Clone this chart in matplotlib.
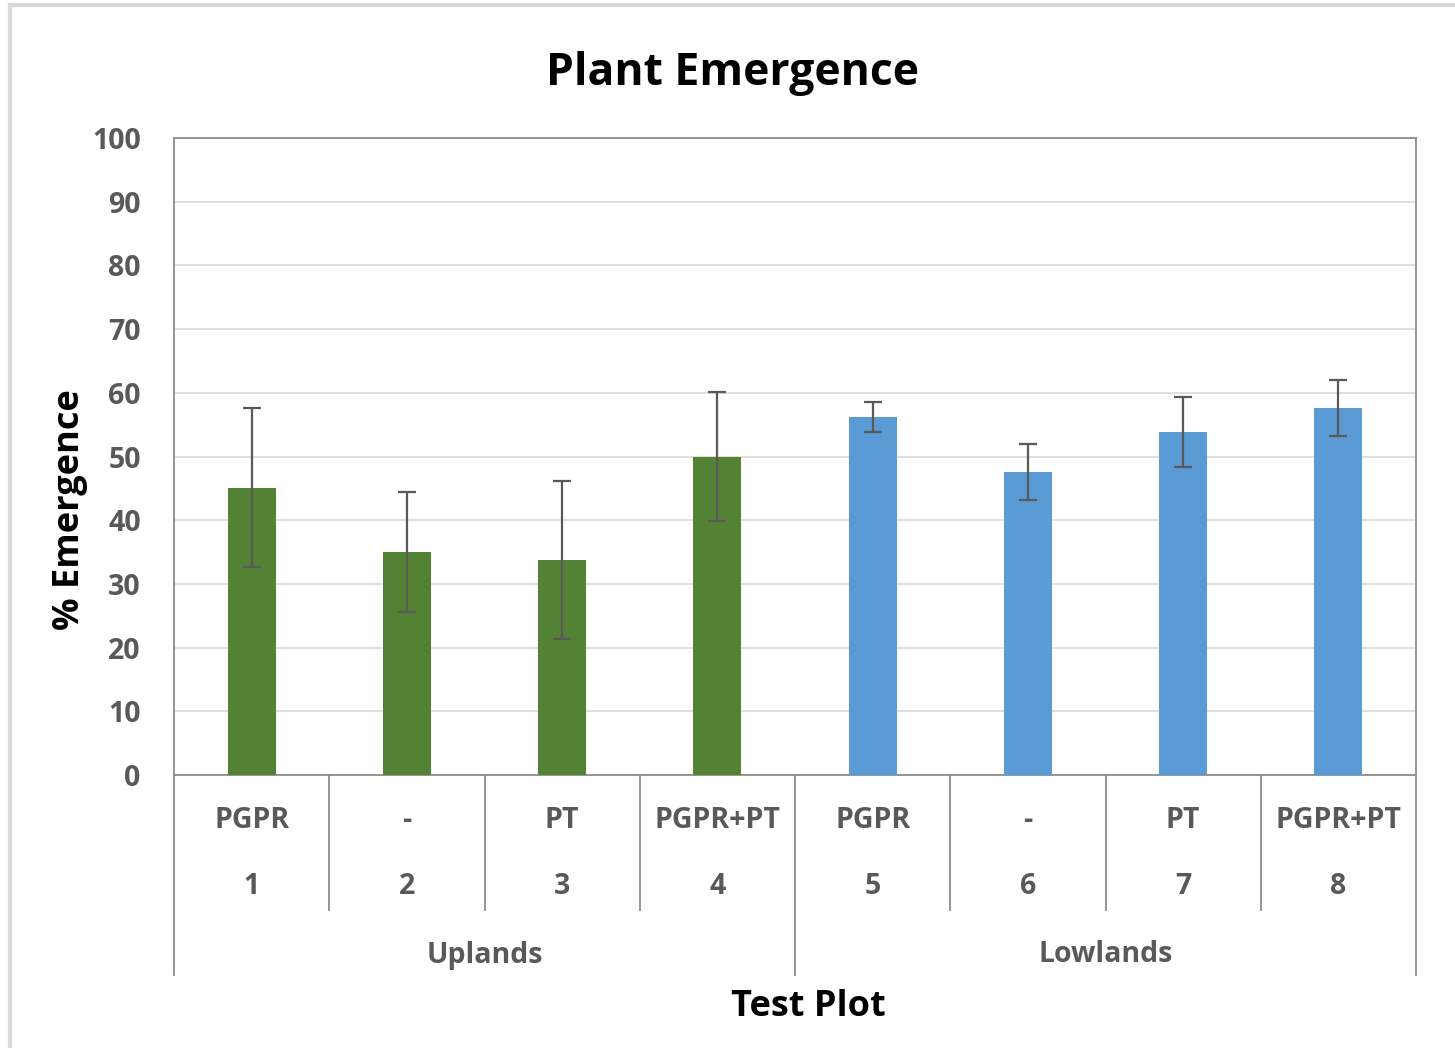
import numpy as np
import matplotlib.pyplot as plt
import matplotlib.transforms as mtransforms
from matplotlib.lines import Line2D

# Datos
plots = ["1", "2", "3", "4", "5", "6", "7", "8"]
treatments = ["PGPR", "-", "PT", "PGPR+PT", "PGPR", "-", "PT", "PGPR+PT"]
groups = ["Uplands", "Lowlands"]
emergence = [45.1, 35.0, 33.8, 50.0, 56.2, 47.5, 53.9, 57.6]
errors = [12.5, 9.4, 12.4, 10.2, 2.4, 4.4, 5.5, 4.4]
bar_colors = ["#548235"] * 4 + ["#5B9BD5"] * 4

plt.rcParams["font.family"] = ["Open Sans", "DejaVu Sans"]

fig = plt.figure(figsize=(14.55, 10.48), dpi=100)
W, H = 1455, 1048
ax = fig.add_axes([174 / W, 1 - 775 / H, (1416 - 174) / W, (775 - 138) / H])

x = np.arange(len(plots))
ax.bar(x, emergence, width=0.31, color=bar_colors, zorder=3,
       yerr=errors, capsize=6.5,
       error_kw=dict(ecolor="#595959", elinewidth=1.6, capthick=1.6, zorder=4))

ax.set_xlim(-0.5, len(plots) - 0.5)
ax.set_ylim(0, 100)
ax.set_yticks(np.arange(0, 101, 10))
ax.yaxis.grid(True, color="#D9D9D9", linewidth=1.2, zorder=0)
ax.set_axisbelow(True)
ax.tick_params(axis="y", length=0, pad=24, labelsize=20.5, labelcolor="#595959")
for lbl in ax.get_yticklabels():
    lbl.set_fontweight("bold")
ax.set_xticks([])
for s in ax.spines.values():
    s.set_color("#8C8C8C")
    s.set_linewidth(1.3)

# Eje de categorías de varios niveles (estilo Excel)
trans = mtransforms.blended_transform_factory(ax.transData, ax.transAxes)
ah = 775 - 138
y_short = -135 / ah
y_long = -200 / ah
line_kw = dict(color="#8C8C8C", linewidth=1.3, transform=trans, clip_on=False)
for i in range(len(plots) + 1):
    b = i - 0.5
    yb = y_long if i % 4 == 0 else y_short
    ax.add_line(Line2D([b, b], [0, yb], **line_kw))

lab_kw = dict(transform=trans, ha="center", va="center", fontsize=20.5,
              color="#595959", fontweight="bold")
for i in range(len(plots)):
    ax.text(i, -45 / ah, treatments[i], **lab_kw)
    ax.text(i, -112 / ah, plots[i], **lab_kw)
for g, name in enumerate(groups):
    ax.text(g * 4 + 1.5, -180 / ah, name, **lab_kw)

ax.text(0.511, -232 / ah, "Test Plot", transform=ax.transAxes, ha="center", va="center",
        fontsize=26, fontweight="bold", color="black")
fig.text(70 / W, 1 - 510 / H, "% Emergence", rotation=90, ha="center", va="center",
         fontsize=26, fontweight="bold", color="black")
fig.text(733 / W, 1 - 74 / H, "Plant Emergence", ha="center", va="center",
         fontsize=32, fontweight="bold", color="black")

# Borde exterior del gráfico
fig.add_artist(Line2D([10 / W, 10 / W], [0, 1 - 5 / H], color="#D9D9D9", linewidth=3,
                      transform=fig.transFigure))
fig.add_artist(Line2D([10 / W, 1], [1 - 5 / H, 1 - 5 / H], color="#D9D9D9", linewidth=3,
                      transform=fig.transFigure))

fig.savefig("out.png", dpi=100)
